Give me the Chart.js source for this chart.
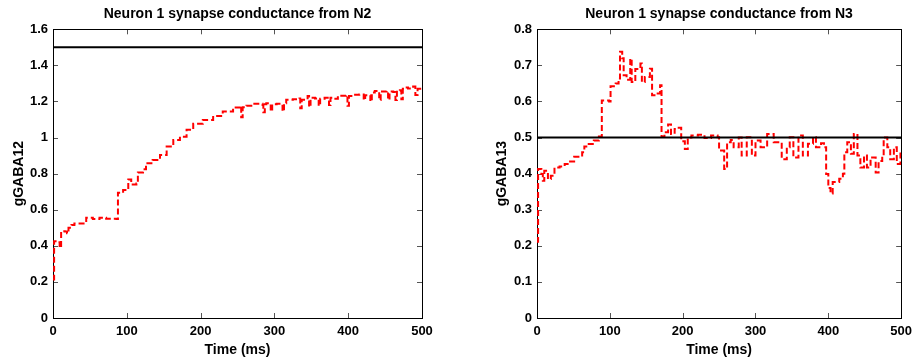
<!DOCTYPE html>
<html lang="en">
    <head>
        <meta charset="UTF-8">
        <title>Neuron 1 synapse conductance</title>
        <script src="https://cdn.jsdelivr.net/npm/chart.js@4.4.0/dist/chart.umd.min.js"></script>
        <style>
            body { margin: 0; background: #fff; }
            canvas { position: absolute; top: 0; }
        </style>
    </head>
    <body>
        <canvas id="chartN2" width="459" height="360" style="left:0px"></canvas>
        <canvas id="chartN3" width="459" height="360" style="left:459px"></canvas>
        <script>
            // conductance from N2 (time in ms, value)
            var timeN2 = [0, 1.5, 5, 9, 11, 16, 19, 21, 25, 29, 41, 45, 54, 63, 72, 86, 88, 95, 102, 106,
                113, 115, 122, 126, 135, 145, 154, 163, 172, 181, 190, 203, 217, 230, 244, 253, 255, 257, 262, 271,
                284, 285, 287, 289, 295, 297, 303, 311, 313, 316, 325, 334, 335, 337, 345, 347, 349, 355, 360, 362,
                368, 374, 376, 379, 386, 397, 399, 401, 406, 415, 421, 423, 427, 430, 432, 436, 442, 444, 452, 454,
                456, 461, 464, 466, 470, 472, 474, 476, 481, 488, 491, 494, 500];
            var gN2 = [0.213, 0.426, 0.42, 0.389, 0.481, 0.48, 0.47, 0.50, 0.515, 0.524, 0.524, 0.556, 0.548, 0.556, 0.55, 0.548, 0.694, 0.709, 0.768, 0.74,
                0.745, 0.806, 0.824, 0.858, 0.875, 0.904, 0.95, 0.987, 1.005, 1.043, 1.076, 1.098, 1.12, 1.144, 1.167, 1.176, 1.113, 1.168, 1.176, 1.187,
                1.18, 1.14, 1.185, 1.19, 1.146, 1.185, 1.187, 1.146, 1.19, 1.21, 1.213, 1.217, 1.163, 1.21, 1.23, 1.17, 1.22, 1.217, 1.176, 1.215,
                1.22, 1.18, 1.22, 1.215, 1.232, 1.235, 1.176, 1.23, 1.237, 1.239, 1.208, 1.235, 1.235, 1.2, 1.25, 1.258, 1.208, 1.255, 1.258, 1.21,
                1.255, 1.253, 1.208, 1.26, 1.262, 1.212, 1.27, 1.277, 1.272, 1.283, 1.236, 1.27, 1.268];

            // conductance from N3
            var timeN3 = [0, 1.5, 6, 8, 10, 15, 19, 24, 31, 38, 44, 51, 58, 62, 65, 71, 78, 85, 89, 99,
                101, 108, 112, 114, 117, 119, 123, 128, 130, 135, 142, 144, 148, 155, 158, 164, 169, 171, 175, 180,
                184, 189, 193, 198, 203, 207, 212, 221, 230, 239, 248, 250, 257, 261, 266, 270, 277, 281, 288, 295,
                300, 307, 316, 325, 331, 336, 343, 347, 352, 359, 365, 372, 379, 383, 390, 394, 397, 400, 403, 406,
                415, 420, 422, 426, 431, 435, 440, 444, 449, 453, 458, 465, 469, 474, 476, 481, 485, 490, 494, 499, 500];
            var gN3 = [0.211, 0.413, 0.399, 0.38, 0.408, 0.385, 0.394, 0.417, 0.42, 0.427, 0.434, 0.447, 0.447, 0.459, 0.475, 0.482, 0.492, 0.503, 0.603, 0.6,
                0.642, 0.65, 0.664, 0.738, 0.72, 0.673, 0.66, 0.719, 0.654, 0.69, 0.705, 0.654, 0.668, 0.691, 0.617, 0.622, 0.645, 0.503, 0.515, 0.536,
                0.51, 0.524, 0.527, 0.49, 0.468, 0.5, 0.506, 0.508, 0.499, 0.506, 0.501, 0.464, 0.413, 0.487, 0.493, 0.473, 0.5, 0.45, 0.501, 0.45,
                0.492, 0.473, 0.51, 0.487, 0.487, 0.44, 0.473, 0.501, 0.445, 0.506, 0.45, 0.483, 0.501, 0.473, 0.484, 0.473, 0.399, 0.36, 0.345, 0.377,
                0.386, 0.4, 0.459, 0.487, 0.455, 0.51, 0.45, 0.417, 0.45, 0.417, 0.445, 0.403, 0.435, 0.45, 0.5, 0.473, 0.44, 0.473, 0.427, 0.46, 0.45];

            var thresholdN2 = 1.5;
            var thresholdN3 = 0.5;
            var timeRange = [0, 500];

            var fontFamily = 'Liberation Sans, Arial, sans-serif';
            var tickFont = { family: fontFamily, size: 13, weight: 'bold' };
            var labelFont = { family: fontFamily, size: 14, weight: 'bold' };

            // MATLAB-like box with inward ticks on every side
            var boxPlugin = {
                id: 'matlabBox',
                beforeDatasetsDraw: function(chart) {
                    var c = chart.ctx, a = chart.chartArea;
                    var xs = chart.scales.x, ys = chart.scales.y;
                    var len = 5;
                    c.save();
                    c.strokeStyle = '#555';
                    c.lineWidth = 1;
                    c.beginPath();
                    xs.ticks.forEach(function(t) {
                        var px = Math.round(xs.getPixelForValue(t.value)) + 0.5;
                        c.moveTo(px, a.bottom); c.lineTo(px, a.bottom - len);
                        c.moveTo(px, a.top); c.lineTo(px, a.top + len);
                    });
                    ys.ticks.forEach(function(t) {
                        var py = Math.round(ys.getPixelForValue(t.value)) + 0.5;
                        c.moveTo(a.left, py); c.lineTo(a.left + len, py);
                        c.moveTo(a.right, py); c.lineTo(a.right - len, py);
                    });
                    c.stroke();
                    c.strokeStyle = '#000';
                    c.strokeRect(Math.round(a.left) + 0.5, Math.round(a.top) + 0.5,
                        Math.round(a.right - a.left), Math.round(a.bottom - a.top));
                    c.restore();
                }
            };

            function makeChart(id, title, yLabel, times, values, threshold, yMax, yStep, yWidth, yTitlePad, rightPad) {
                var pts = times.map(function(t, i) { return { x: t, y: values[i] }; });
                var line = timeRange.map(function(t) { return { x: t, y: threshold }; });
                return new Chart(document.getElementById(id).getContext('2d'), {
                    type: 'line',
                    data: {
                        datasets: [{
                            data: line,
                            borderColor: '#000',
                            borderWidth: 2,
                            pointRadius: 0,
                            fill: false
                        }, {
                            data: pts,
                            borderColor: '#ff0000',
                            borderWidth: 2,
                            borderDash: [6, 3],
                            // hold previous value, jump at the new sample time
                            stepped: 'before',
                            pointRadius: 0,
                            fill: false
                        }]
                    },
                    options: {
                        responsive: false,
                        animation: false,
                        layout: { padding: { left: 0, right: rightPad, top: 0, bottom: 0 } },
                        plugins: {
                            legend: { display: false },
                            tooltip: { enabled: false },
                            title: {
                                display: true,
                                text: title,
                                fullSize: false,
                                color: '#000',
                                font: labelFont,
                                padding: { top: 5.6, bottom: 6.9 }
                            }
                        },
                        scales: {
                            x: {
                                type: 'linear',
                                min: 0,
                                max: 500,
                                grid: { display: false, drawTicks: false },
                                border: { display: false },
                                ticks: { stepSize: 100, color: '#000', font: tickFont, padding: 6, maxRotation: 0 },
                                title: {
                                    display: true,
                                    text: 'Time (ms)',
                                    color: '#000',
                                    font: labelFont,
                                    padding: { top: 0, bottom: 1.6 }
                                },
                                afterFit: function(s) { s.height = 42; }
                            },
                            y: {
                                min: 0,
                                max: yMax,
                                grid: { display: false, drawTicks: false },
                                border: { display: false },
                                ticks: {
                                    stepSize: yStep, color: '#000', font: tickFont, padding: 5,
                                    callback: function(v) { return String(parseFloat(v.toFixed(2))); }
                                },
                                title: {
                                    display: true,
                                    text: yLabel,
                                    color: '#000',
                                    font: labelFont,
                                    padding: { top: yTitlePad, bottom: 0 }
                                },
                                afterFit: function(s) { s.width = yWidth; }
                            }
                        }
                    },
                    plugins: [boxPlugin]
                });
            }

            makeChart('chartN2', 'Neuron 1 synapse conductance from N2', 'gGABA12',
                timeN2, gN2, thresholdN2, 1.6, 0.2, 53, 10.6, 37);
            makeChart('chartN3', 'Neuron 1 synapse conductance from N3', 'gGABA13',
                timeN3, gN3, thresholdN3, 0.8, 0.1, 78, 34.6, 12);
        </script>
    </body>
</html>
